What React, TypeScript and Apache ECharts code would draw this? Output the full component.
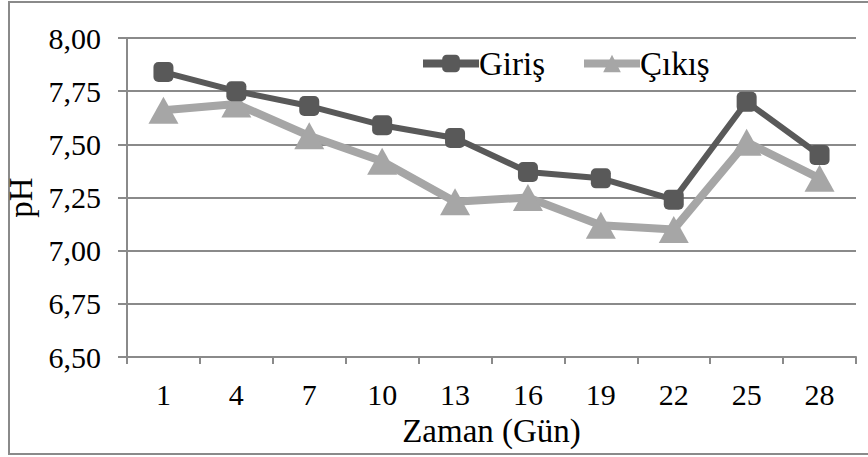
import React, { useEffect, useRef } from "react";
import * as echarts from "echarts";

const categories = ["1", "4", "7", "10", "13", "16", "19", "22", "25", "28"];
const girisValues = [7.84, 7.75, 7.68, 7.59, 7.53, 7.37, 7.34, 7.24, 7.7, 7.45];
const cikisValues = [7.66, 7.69, 7.54, 7.42, 7.23, 7.25, 7.12, 7.1, 7.51, 7.34];
const seriesNames = ["Giriş", "Çıkış"];

const FONT = "Times New Roman, Liberation Serif, serif";

export default function App() {
  const ref = useRef<HTMLDivElement>(null);
  useEffect(() => {
    if (!ref.current) return;
    const chart = echarts.init(ref.current, undefined, { renderer: "svg" });
    chart.setOption({
      animation: false,
      backgroundColor: "#ffffff",
      textStyle: { fontFamily: FONT },
      graphic: [
        {
          type: "rect",
          shape: { x: 9, y: 2, width: 860, height: 452 },
          style: { fill: "none", stroke: "#8a8a8a", lineWidth: 2 },
          silent: true,
        },
      ],
      grid: { left: 127, right: 12, top: 38, bottom: 100, containLabel: false, outerBoundsMode: "none" },
      legend: {
        left: 419,
        top: 47,
        padding: 0,
        itemWidth: 56,
        itemHeight: 22,
        itemGap: 35,
        lineStyle: { width: 8 },
        textStyle: { fontFamily: FONT, fontSize: 33, color: "#000", padding: [0, 0, 0, -5] },
        data: seriesNames,
      },
      xAxis: {
        type: "category",
        data: categories,
        boundaryGap: true,
        name: "Zaman (Gün)",
        nameLocation: "middle",
        nameGap: 57,
        nameTextStyle: { fontFamily: FONT, fontSize: 33, color: "#000" },
        axisLine: { lineStyle: { color: "#8a8a8a", width: 2 } },
        axisTick: { show: true, length: 7, interval: 0, lineStyle: { color: "#8a8a8a", width: 2 } },
        axisLabel: { fontFamily: FONT, fontSize: 30, color: "#000", margin: 22 },
      },
      yAxis: {
        type: "value",
        min: 6.5,
        max: 8,
        interval: 0.25,
        name: "pH",
        nameLocation: "middle",
        nameGap: 66,
        nameRotate: 90,
        nameTextStyle: { fontFamily: FONT, fontSize: 33, color: "#000" },
        axisLine: { show: true, lineStyle: { color: "#8a8a8a", width: 2 } },
        axisTick: { show: true, length: 9, lineStyle: { color: "#8a8a8a", width: 2 } },
        axisLabel: {
          fontFamily: FONT,
          fontSize: 30,
          color: "#000",
          margin: 26,
          formatter: (v: number) => v.toFixed(2).replace(".", ","),
        },
        splitLine: { show: true, lineStyle: { color: "#8a8a8a", width: 2 } },
      },
      series: [
        {
          name: seriesNames[0],
          type: "line",
          data: girisValues,
          symbol: "roundRect",
          symbolSize: 20,
          showAllSymbol: true,
          itemStyle: { color: "#595959" },
          lineStyle: { color: "#595959", width: 6 },
          z: 3,
        },
        {
          name: seriesNames[1],
          type: "line",
          data: cikisValues,
          symbol: "triangle",
          symbolSize: [30, 27],
          showAllSymbol: true,
          itemStyle: { color: "#a6a6a6" },
          lineStyle: { color: "#a6a6a6", width: 8 },
          z: 2,
        },
      ],
    });
    return () => chart.dispose();
  }, []);
  return (
    <div
      ref={ref}
      style={{ position: "fixed", left: 0, top: 0, width: 868, height: 457 }}
    />
  );
}
